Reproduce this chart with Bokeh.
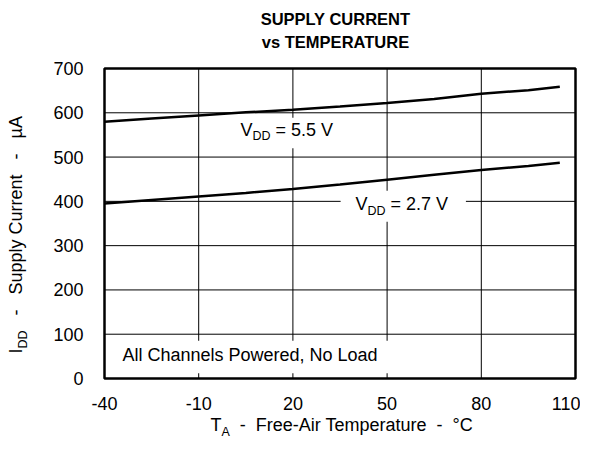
from bokeh.plotting import figure
from bokeh.models import Range1d, FixedTicker, Label
from bokeh.embed import file_html
from bokeh.resources import INLINE
import math

# ---- data ----
temps = [-40, -25, -10, 5, 20, 35, 50, 65, 80, 95, 105]
idd_55 = [580, 587, 594, 601, 607, 614, 622, 631, 643, 651, 659]
idd_27 = [395, 403, 411, 419, 428, 438, 449, 460, 471, 480, 487]
x_ticks = [-40, -10, 20, 50, 80, 110]
y_ticks = [0, 100, 200, 300, 400, 500, 600, 700]

FW, FH = 580, 437            # drawing frame size in px (layout only)
# pixel placement of the plotting box inside the frame (layout only)
FL, FR, FT, FB = 104, 575, 68, 378
xs = (FR - FL) / (x_ticks[-1] - x_ticks[0])
ys = (FB - FT) / (y_ticks[-1] - y_ticks[0])
x_rng = Range1d(x_ticks[0] - FL / xs, x_ticks[-1] + (FW - FR) / xs)
y_rng = Range1d(y_ticks[0] - (FH - FB) / ys, y_ticks[-1] + FT / ys)


def c2d(px, py):
    return x_ticks[0] + (px - FL) / xs, y_ticks[0] + (FB - py) / ys


def d2c(x, y):
    return FL + (x - x_ticks[0]) * xs, FB - (y - y_ticks[0]) * ys


FONT = "Liberation Sans"
FS = 18
SUB = 12.5
BASE_K = 0.4   # measured shift of rendered baseline vs anchor, in em

p = figure(frame_width=FW, frame_height=FH, output_backend="svg", toolbar_location=None,
           x_range=x_rng, y_range=y_rng, min_border=0)
p.title = None
p.background_fill_color = "white"
p.border_fill_color = "white"
p.outline_line_color = None
p.xgrid.visible = False
p.ygrid.visible = False

for ax in (p.xaxis[0], p.yaxis[0]):
    ax.axis_line_color = None
    ax.major_tick_line_color = None
    ax.minor_tick_line_color = None
    ax.major_label_text_font = FONT
    ax.major_label_text_font_size = f"{FS}px"
    ax.major_label_text_color = "black"
p.xaxis.ticker = FixedTicker(ticks=x_ticks)
p.yaxis.ticker = FixedTicker(ticks=y_ticks)
p.xaxis.fixed_location = y_ticks[0]
p.yaxis.fixed_location = x_ticks[0]
p.xaxis.major_label_overrides = {t: (f"-{abs(t)}" if t < 0 else str(t)) for t in x_ticks}
p.xaxis.major_label_standoff = 12
p.yaxis.major_label_standoff = 15

# grid
inner_x = x_ticks[1:-1]
inner_y = y_ticks[1:-1]
p.segment(x0=inner_x, y0=[y_ticks[0]] * len(inner_x), x1=inner_x, y1=[y_ticks[-1]] * len(inner_x),
          line_color="black", line_width=1)
p.segment(x0=[x_ticks[0]] * len(inner_y), y0=inner_y, x1=[x_ticks[-1]] * len(inner_y), y1=inner_y,
          line_color="black", line_width=1)

# white masks behind in-plot labels
mask_l = [1.5, 35.2, -38.5]
mask_r = [34.8, 75.1, 52]
mask_t = [589, 424, 85]
mask_b = [520, 354, 12]
p.quad(left=mask_l, right=mask_r, top=mask_t, bottom=mask_b, fill_color="white", line_color=None)

p.line(temps, idd_55, line_color="black", line_width=2.5)
p.line(temps, idd_27, line_color="black", line_width=2.5)

# frame
p.quad(left=[x_ticks[0]], right=[x_ticks[-1]], bottom=[y_ticks[0]], top=[y_ticks[-1]],
       fill_color=None, line_color="black", line_width=2.5)


def lab(text, px, py, size=FS, bold=False, align="left", angle=0.0):
    # (px, py): wanted baseline start in window pixels
    if angle:
        px = px - BASE_K * size
    else:
        py = py - BASE_K * size
    x, y = c2d(px, py)
    p.add_layout(Label(x=x, y=y, text=text,
                       text_font=FONT, text_font_size=f"{size}px",
                       text_font_style="bold" if bold else "normal",
                       text_color="black", text_align=align, text_baseline="alphabetic",
                       angle=angle))


NB = "\u00a0"


def vdd_label(tx, val, rest):
    x0, y0 = d2c(tx, val)
    lab("V", x0, y0)
    lab("DD", x0 + 0.667 * FS, y0 + 4, SUB)
    lab(rest, x0 + 0.667 * FS + 1.444 * SUB, y0)


vdd_label(3.3, 546, f"{NB}={NB}5.5{NB}V")
vdd_label(39.9, 377, f"{NB}={NB}2.7{NB}V")

ax0, ay0 = d2c(-34.3, 36.8)
lab("All Channels Powered, No Load", ax0, ay0)

# x-axis title
x0, y0 = 210, 432
lab("T", x0, y0)
lab("A", x0 + 0.611 * FS, y0 + 4, SUB)
lab(f"{NB}{NB}-{NB}{NB}Free-Air Temperature{NB}{NB}-{NB}{NB}\u00b0C", x0 + 0.611 * FS + 0.667 * SUB, y0)

# y-axis title (rotated)
a = math.pi / 2
x0, y0 = 23, 353
lab("I", x0, y0, angle=a)
lab("DD", x0 + 4, y0 - 0.278 * FS, SUB, angle=a)
lab(f"{NB*3}-{NB*3}Supply Current{NB*3}-{NB*3}\u00b5A", x0, y0 - 0.278 * FS - 1.444 * SUB, angle=a)

# title
lab("SUPPLY CURRENT", 335, 25, size=16.5, bold=True, align="center")
lab("vs TEMPERATURE", 335, 48, size=16.5, bold=True, align="center")

open("out.html", "w").write(file_html(p, INLINE))
